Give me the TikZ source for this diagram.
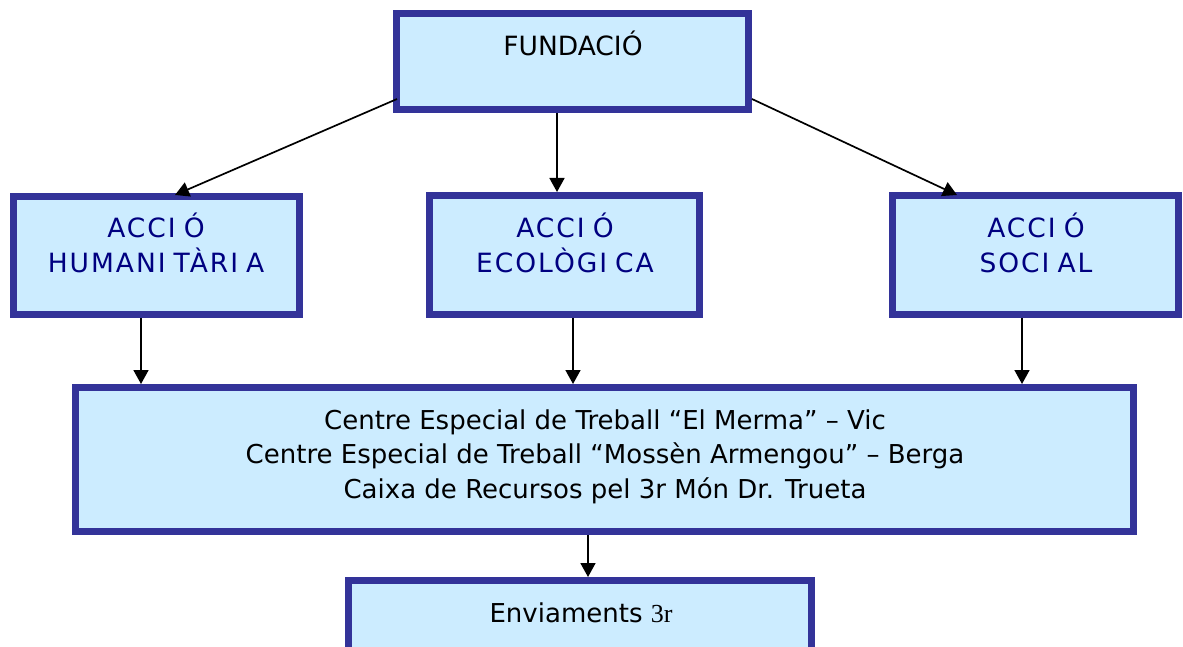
\documentclass[tikz,border=0pt]{standalone}
\usepackage{fontspec}
\setmainfont{DejaVu Sans}
\newfontfamily\serifthree{Liberation Serif}
\newfontfamily\spaced{DejaVu Sans}[LetterSpace=7.5]
\usetikzlibrary{arrows.meta}
\definecolor{boxfill}{HTML}{CCECFF}
\definecolor{boxline}{HTML}{333399}
\definecolor{navytext}{HTML}{000080}
\newcommand{\Iw}{I\kern8pt}
\tikzset{
  box/.style={draw=boxline, fill=boxfill, line width=7pt, inner sep=0pt},
  lbl/.style={anchor=base, inner sep=0pt, font=\fontsize{26}{32}\selectfont},
  ttl/.style={anchor=base, inner sep=0pt, text=navytext, font=\spaced\fontsize{26.5}{32}\selectfont},
  arr/.style={line width=1.7pt, -{Triangle[width=15pt,length=14pt]}}
}
\begin{document}
\begin{tikzpicture}[x=1pt,y=-1pt]
\useasboundingbox (0,0) rectangle (1183,647);
% boxes
\node[box, minimum width=352pt, minimum height=96pt] (fund) at (572.5,61.5) {};
\node[box, minimum width=286pt, minimum height=118pt] (hum) at (156.5,255.5) {};
\node[box, minimum width=270pt, minimum height=119pt] (eco) at (564.5,255) {};
\node[box, minimum width=286pt, minimum height=119pt] (soc) at (1035.5,255) {};
\node[box, minimum width=1058pt, minimum height=144pt] (big) at (604.5,459.5) {};
\node[box, minimum width=463pt, minimum height=120pt] (env) at (580,640.5) {};
% texts
\node[lbl, font=\fontsize{26.5}{32}\selectfont] (tf) at (573,56) {FUNDACIÓ};
\node[ttl] (th1) at (156,237) {ACC\Iw Ó};
\node[ttl] (th2) at (156,272) {HUMAN\Iw TÀR\Iw A};
\node[ttl] (te1) at (565,237) {ACC\Iw Ó};
\node[ttl] (te2) at (565,272) {ECOLÒG\Iw CA};
\node[ttl] (ts1) at (1036,237) {ACC\Iw Ó};
\node[ttl] (ts2) at (1036,272) {SOC\Iw AL};
\node[lbl] (tb1) at (605,429) {Centre Especial de Treball “El Merma” – Vic};
\node[lbl] (tb2) at (605,463.5) {Centre Especial de Treball “Mossèn Armengou” – Berga};
\node[lbl] (tb3) at (605,498) {Caixa de Recursos pel 3r Món Dr. Trueta};
\node[lbl] (tv) at (581,622) {Enviaments {\serifthree 3r}};
% connectors
\coordinate (fl) at (397,99);
\coordinate (fr) at (752,99);
\draw[arr] (fl) -- (175,195);
\draw[arr] (fr) -- (957,195);
\draw[arr] (fund.south -| 557,0) -- (eco.north -| 557,0);
\draw[arr] (hum.south -| 141,0) -- (big.north -| 141,0);
\draw[arr] (eco.south -| 573,0) -- (big.north -| 573,0);
\draw[arr] (soc.south -| 1022,0) -- (big.north -| 1022,0);
\draw[arr] (big.south -| 588,0) -- (env.north -| 588,0);
\end{tikzpicture}
\end{document}
